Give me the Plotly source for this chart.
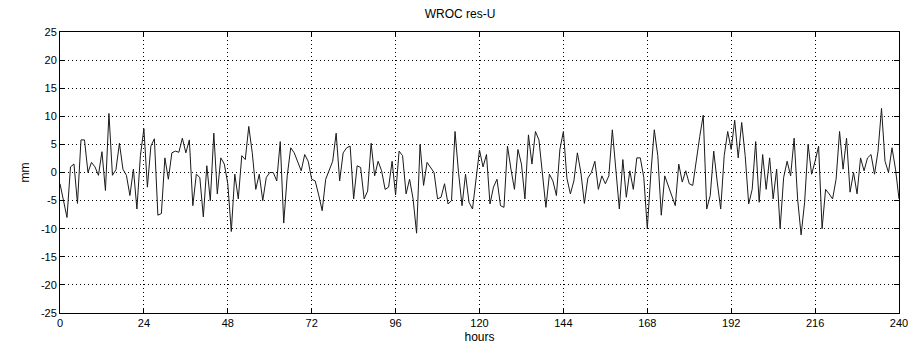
import plotly.graph_objects as go

hours = list(range(0, 241))
res_u = [
    -2, -5, -8, 1, 1.5, -5.5, 5.8, 5.8, 0, 1.8,
    1, -0.5, 3.7, -3.2, 10.5, -0.5, 0.5, 5.2, 0.6, -0.5,
    -4.1, 0.6, -6.5, 3, 7.8, -2.6, 4.7, 6, -7.6, -7.3,
    2.6, -1.2, 3.5, 3.8, 3.6, 6.1, 3.5, 5.8, -5.9, -0.3,
    -0.9, -7.9, 1.2, -5, 7, -3.8, 2.6, 1.5, -2, -10.5,
    -0.3, -4.7, 3, 2.3, 8.2, 3.5, -3, -0.3, -5, -0.9,
    0, 0, -1.5, 5.5, -9, -0.6, 4.4, 3.5, 2, 0.3,
    3.2, 2, -1.2, -1.5, -4, -6.8, -1.2, 0.6, 2, 7,
    -1.5, 3.5, 4.4, 4.7, -4.7, 1.2, 0.9, -4.7, -3.3, 5.2,
    -0.6, 2, 0.3, -3, -2.6, 2, -4, 3.8, 3, -3.8,
    -1.2, -4.7, -10.8, 5, -2.3, 1.8, 0.9, 0, -4.7, -4.4,
    -2, -5.6, -5, 7.3, 0, -5.9, -0.3, -5.3, -6.5, -1,
    4, 1, 3.2, -5.6, -2.6, -1.2, -5.9, -6.2, 4.7, 0.6,
    -3, 4.1, 1.5, -4.7, 6.7, 1.5, 7.3, 5.8, 0, -6.2,
    -0.3, -1.5, -4.1, 4.1, 7.3, -1, -3.8, -1.5, 3.5, 0,
    -5.5, -1, 0, 2, -3, -0.6, -2, -0.6, 7.6, 1.2,
    -6.5, 2.3, -4.4, 0.3, -3, 2.6, 2.6, -0.9, -10, -0.3,
    7.6, 3, -7.6, -0.6, -2.3, -4.1, -5.9, 1.5, -1.7, 0.3,
    -2, -2.3, 2.3, 6.4, 10.2, -6.5, -4.1, 3.8, -1.7, -6.5,
    3, 7.3, 4.1, 9.3, 2.6, 8.9, 3, -5.6, -3, 5.5,
    -5.3, 3.2, -3, 2.6, -4.7, 0.6, -10, -0.9, 2, -0.6,
    6.1, -4.7, -11.1, -5.3, 5, -0.3, 2, 4.7, -10, -3,
    -3.8, -4.7, -1.2, 7.3, 0.6, 6.1, -3.5, 0, -3.8, 2.6,
    0.3, 2.6, 3.2, -0.3, 3.8, 11.4, 2, 0, 4.4, 0.6,
    -4.7,
]
x_ticks = list(range(0, 241, 24))
y_ticks = list(range(-25, 26, 5))

FONT = "Liberation Sans, Arial, sans-serif"

fig = go.Figure()
fig.add_trace(go.Scatter(
    x=hours, y=res_u, mode="lines",
    line=dict(color="#1a1a1a", width=1),
    showlegend=False, hoverinfo="skip",
))

axis_common = dict(
    showline=True, linecolor="black", linewidth=1, mirror="ticks",
    ticks="inside", ticklen=5, tickcolor="black", tickwidth=1,
    showgrid=True, gridcolor="black", gridwidth=1, griddash="1px,3px",
    zeroline=False,
    tickfont=dict(family=FONT, size=11, color="black"),
)

fig.update_layout(
    width=920, height=354,
    margin=dict(l=60, r=12, t=32, b=38),
    paper_bgcolor="white", plot_bgcolor="white",
    title=dict(text="WROC res-U", x=0.5, xanchor="center", y=0.962, yanchor="middle",
               font=dict(family=FONT, size=12, color="black")),
    xaxis=dict(range=[0, 240], tickvals=x_ticks, ticktext=[str(v) for v in x_ticks],
               title=dict(text="hours", standoff=4, font=dict(family=FONT, size=12, color="black")),
               **axis_common),
    yaxis=dict(range=[-25, 25], tickvals=y_ticks, ticktext=[str(v) for v in y_ticks],
               title=dict(text="mm", standoff=8, font=dict(family=FONT, size=12, color="black")),
               **axis_common),
)

fig.write_html("out.html")
